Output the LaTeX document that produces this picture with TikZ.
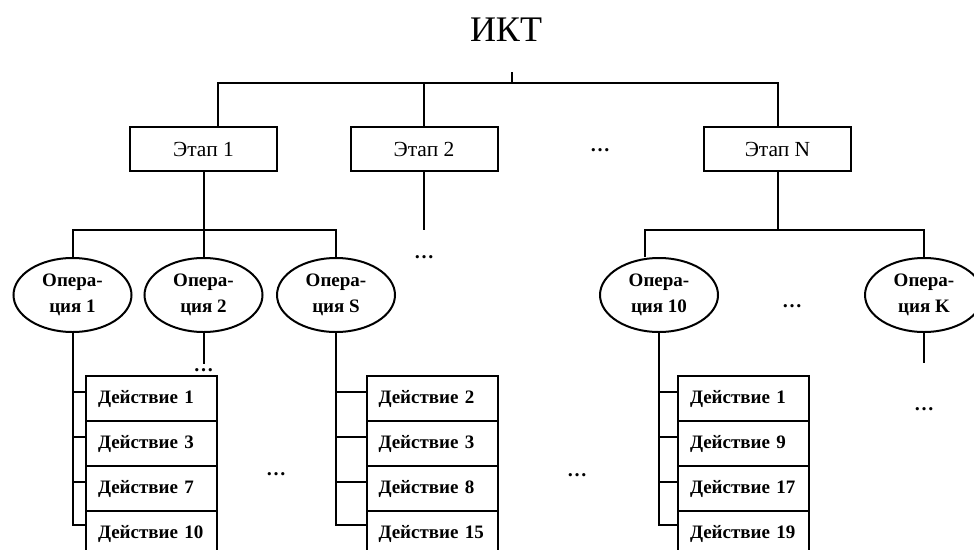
\documentclass[tikz,border=0pt]{standalone}
\usepackage{fontspec}
\setmainfont{Liberation Serif}
\usetikzlibrary{shapes.geometric,positioning}

\begin{document}
\begin{tikzpicture}[x=1pt,y=-1pt,line width=2pt,node distance=0pt,
	etap/.style={draw,minimum width=147pt,minimum height=44pt,inner sep=0pt,font=\fontsize{21.5}{24}\selectfont},
	oper/.style={draw,ellipse,minimum width=118pt,minimum height=74pt,inner sep=0pt,align=center,font=\fontsize{19}{26}\selectfont\bfseries},
	act/.style={draw,minimum height=45pt,inner xsep=12pt,inner ysep=0pt,outer sep=0pt,text width=107pt,align=left,font=\fontsize{19}{24}\selectfont\bfseries},
	more/.style={font=\fontsize{20}{24}\selectfont\bfseries,inner sep=0pt}]
	\useasboundingbox (0,0) rectangle (974,549);
	\clip (0,0) rectangle (974,549);
	
	\node[font=\fontsize{36}{40}\selectfont] (ikt) at (506,30) {ИКТ};
	\coordinate (top) at (512,72);
	\coordinate (b1) at (218,83);
	
	\node[etap] (etap1) at (203.5,149) {Этап 1};
	\node[etap] (etap2) at (424,149) {Этап 2};
	\node[etap] (etapN) at (777.5,149) {Этап N};
	\node[more] (m1) at (600,150) {…};
	
	\draw (b1 |- etap1.north) -- (b1) -| (etapN.north);
	\draw (etap2.north) -- (etap2.north |- b1);
	\draw (top) -- (top |- b1);
	
	\node[oper] (op1) at (72.5,295) {Опера-\\ция 1};
	\node[oper] (op2) at (203.5,295) {Опера-\\ция 2};
	\node[oper] (opS) at (336,295) {Опера-\\ция S};
	\node[oper] (op10) at (659,295) {Опера-\\ция 10};
	\node[oper] (opK) at (924,295) {Опера-\\ция K};
	
	\coordinate (s1) at (0,230);
	\coordinate (sN) at (645,230);
	\draw (op1.north) |- (opS.north |- s1) -- (opS.north);
	\draw (etap1.south) -- (op2.north);
	\draw (etap2.south) -- (etap2.south |- s1) node[more,below=25pt] (m2) {…};
	\draw (sN |- op10.north) -- (sN) -| (opK.north);
	\draw (etapN.south) -- (etapN.south |- sN);
	\node[more] (m3) at (792,306) {…};
	
	\draw (op2.south) -- ++(0,31) node[more,below=4pt] (m4) {…};
	\draw (opK.south) -- ++(0,30) node[more,below=44pt] (m5) {…};
	
	\node[act] (a1) at (151.5,398.5) {Действие 1};
	\node[act,below=of a1] (a2) {Действие 3};
	\node[act,below=of a2] (a3) {Действие 7};
	\node[act,below=of a3] (a4) {Действие 10};
	
	\node[act] (b1) at (432,398.5) {Действие 2};
	\node[act,below=of b1] (b2) {Действие 3};
	\node[act,below=of b2] (b3) {Действие 8};
	\node[act,below=of b3] (b4) {Действие 15};
	
	\node[act] (c1) at (743.5,398.5) {Действие 1};
	\node[act,below=of c1] (c2) {Действие 9};
	\node[act,below=of c2] (c3) {Действие 17};
	\node[act,below=of c3] (c4) {Действие 19};
	
	\node[more] (m6) at (276,474) {…};
	\node[more] (m7) at (577,475) {…};
	
	\foreach \c/\o in {a/op1,b/opS,c/op10}{
		\draw (\o.south) |- ([yshift=9pt]\c4.west);
		\foreach \i in {1,2,3}
			\draw ([yshift=7pt]\c\i.west) -- ([yshift=7pt]\c\i.west -| \o.south);
	}
\end{tikzpicture}
\end{document}
